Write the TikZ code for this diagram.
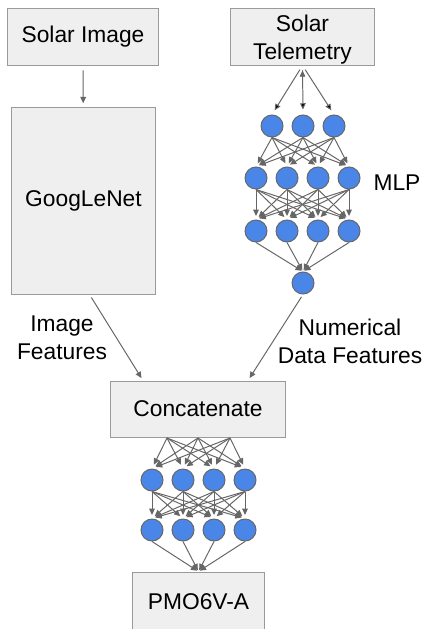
\documentclass[tikz,border=0pt]{standalone}
\usepackage{fontspec}
\setmainfont{Liberation Sans}
\usetikzlibrary{arrows.meta}

\definecolor{boxfill}{HTML}{EFEFEF}
\definecolor{boxline}{HTML}{9A9A9A}
\definecolor{unitblue}{HTML}{4A86E8}
\definecolor{wire}{HTML}{666666}

\tikzset{
  block/.style={draw=boxline, fill=boxfill, line width=0.7pt, inner sep=0pt, align=center},
  unit/.style={circle, draw=wire, fill=unitblue, line width=0.7pt, minimum size=0.55cm, inner sep=0pt},
  link/.style={draw=wire, line width=0.7pt, -{Triangle[length=4.5pt,width=4pt]}},
  tag/.style={align=center}
}

\begin{document}
\begin{tikzpicture}[x=0.025cm, y=-0.025cm, font=\fontsize{16.2}{19.9}\selectfont]
\useasboundingbox (0,0) rectangle (424,629);

% inputs and image branch
\node[block, minimum width=3.75cm, minimum height=1.4cm] (img) at (83,37) {Solar Image};
\node[block, minimum width=3.575cm, minimum height=1.4cm, text depth=0pt] (tel) at (302.5,37) {Solar\\Telemetry};
\node[block, minimum width=3.575cm, minimum height=4.65cm] (goog) at (83.5,201) {GoogLeNet};

% telemetry MLP
\node[unit] (m11) at (272,126) {};
\node[unit] (m12) at (303,126) {};
\node[unit] (m13) at (334,126) {};

\node[unit] (m21) at (256,178) {};
\node[unit] (m22) at (287,178) {};
\node[unit] (m23) at (318,178) {};
\node[unit] (m24) at (349,178) {};

\node[unit] (m31) at (256,231) {};
\node[unit] (m32) at (287,231) {};
\node[unit] (m33) at (318,231) {};
\node[unit] (m34) at (349,231) {};

\node[unit] (m4) at (303,283) {};

\node (mlp) at (397,183) {MLP};

% merge
\node[block, minimum width=4.35cm, minimum height=1.4cm] (concat) at (198,409) {Concatenate};
\coordinate (s1) at (167,438);
\coordinate (s2) at (198,438);
\coordinate (s3) at (230,438);

\node[unit] (c11) at (152,480) {};
\node[unit] (c12) at (183,480) {};
\node[unit] (c13) at (214,480) {};
\node[unit] (c14) at (245,480) {};

\node[unit] (c21) at (152,530) {};
\node[unit] (c22) at (183,530) {};
\node[unit] (c23) at (214,530) {};
\node[unit] (c24) at (245,530) {};

\node[block, minimum width=3.275cm, minimum height=1.5cm] (pmo) at (198.5,602) {PMO6V-A};

\node[tag] (imgf) at (62,338) {Image\\Features};
\node[tag] (numf) at (350,341) {Numerical\\Data Features};

% connections
\draw[link, shorten <=3.5pt, shorten >=3pt] (img) -- (goog);
\draw[link, shorten <=3.5pt, shorten >=3.5pt] (tel.south) edge (m11.north) (tel.south) edge (m12.north) (tel.south) edge (m13.north);

\foreach \a in {1,2,3}
  \foreach \b in {1,2,3,4}
    \draw[link, shorten >=2.5pt] (m1\a.south) -- (m2\b.north);
\foreach \a in {1,2,3,4}
  \foreach \b in {1,2,3,4}
    \draw[link, shorten >=2.5pt] (m2\a.south) -- (m3\b.north);
\foreach \a in {1,2,3,4}
  \draw[link, shorten >=1pt] (m3\a.south) -- (m4.north);

\draw[link, shorten <=2.5pt, shorten >=2pt] ([xshift=0.15cm]goog.south) -- ([xshift=-1.375cm]concat.north);
\draw[link, shorten <=2pt, shorten >=2pt] (m4.south) -- ([xshift=1.25cm]concat.north);

\foreach \a in {1,2,3}
  \foreach \b in {1,2,3,4}
    \draw[link, shorten >=3pt] (s\a) -- (c1\b.north);
\foreach \a in {1,2,3,4}
  \foreach \b in {1,2,3,4}
    \draw[link, shorten >=2.5pt] (c1\a.south) -- (c2\b.north);
\foreach \a in {1,2,3,4}
  \draw[link, shorten >=1pt] (c2\a.south) -- (pmo.north);
\end{tikzpicture}
\end{document}
